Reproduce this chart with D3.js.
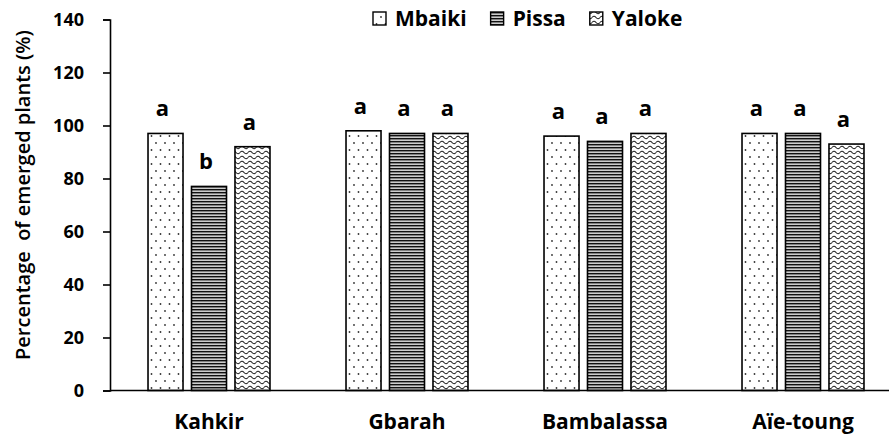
<!DOCTYPE html>
<html>
<head>
<meta charset="utf-8">
<script src="https://cdn.jsdelivr.net/npm/d3@7"></script>
<style>
body { margin: 0; background: #fff; }
text { font-family: "Open Sans", sans-serif; fill: #000; }
</style>
</head>
<body>
<div id="chart"></div>
<script>
// data
var sites = ["Kahkir", "Gbarah", "Bambalassa", "Aïe-toung"];
var series = ["Mbaiki", "Pissa", "Yaloke"];
var mbaiki = [97, 98, 96, 97];
var pissa = [77, 97, 94, 97];
var yaloke = [92, 97, 97, 93];
var letMbaiki = ["a", "a", "a", "a"];
var letPissa = ["b", "a", "a", "a"];
var letYaloke = ["a", "a", "a", "a"];
var yTicks = [0, 20, 40, 60, 80, 100, 120, 140];

function init(){

var w = 889;
var h = 434;

var svg = d3.select("#chart")
    .append("svg")
    .attr("width", w)
    .attr("height", h);

// patterns like the excel fills
var defs = svg.append("defs");

var pDots = defs.append("pattern")
    .attr("id", "pat-Mbaiki")
    .attr("patternUnits", "userSpaceOnUse")
    .attr("width", 18).attr("height", 14);
pDots.append("rect").attr("width", 18).attr("height", 14).attr("fill", "#fff");
pDots.append("circle").attr("cx", 3).attr("cy", 3).attr("r", 0.9).attr("fill", "#333");
pDots.append("circle").attr("cx", 12).attr("cy", 3).attr("r", 0.9).attr("fill", "#333");
pDots.append("circle").attr("cx", 7.5).attr("cy", 10).attr("r", 0.9).attr("fill", "#333");
pDots.append("circle").attr("cx", 16.5).attr("cy", 10).attr("r", 0.9).attr("fill", "#333");

var pLines = defs.append("pattern")
    .attr("id", "pat-Pissa")
    .attr("patternUnits", "userSpaceOnUse")
    .attr("width", 8).attr("height", 3);
pLines.append("rect").attr("width", 8).attr("height", 3).attr("fill", "#ccc");
pLines.append("rect").attr("y", 0).attr("width", 8).attr("height", 1.4).attr("fill", "#111");

var pWave = defs.append("pattern")
    .attr("id", "pat-Yaloke")
    .attr("patternUnits", "userSpaceOnUse")
    .attr("width", 8).attr("height", 5);
pWave.append("rect").attr("width", 8).attr("height", 5).attr("fill", "#fff");
pWave.append("path")
    .attr("d", "M0,2.5 Q2,0 4,2.5 T8,2.5")
    .attr("fill", "none")
    .attr("stroke", "#222")
    .attr("stroke-width", 1.1);

var x0 = d3.scaleBand()
    .domain(sites)
    .range([110, 902])
    .paddingInner(0.384)
    .paddingOuter(0.192);

var x1 = d3.scaleBand()
    .domain(series)
    .range([0, x0.bandwidth()])
    .paddingInner(0.195);

var y = d3.scaleLinear()
    .domain([0, 140])
    .range([390.5, 19.5]);

var rows = [];
sites.forEach(function(s, i){
    rows.push({site: s, ser: "Mbaiki", v: mbaiki[i], lab: letMbaiki[i]});
    rows.push({site: s, ser: "Pissa", v: pissa[i], lab: letPissa[i]});
    rows.push({site: s, ser: "Yaloke", v: yaloke[i], lab: letYaloke[i]});
});

// y axis
var yAxis = svg.append("g")
    .attr("transform", "translate(110,0)")
    .call(d3.axisLeft(y).tickValues(yTicks).tickSize(7).tickPadding(19));
yAxis.select(".domain").attr("stroke", "#000").attr("stroke-width", 1.6);
yAxis.selectAll(".tick line").attr("stroke", "#000").attr("stroke-width", 1.6);
yAxis.selectAll(".tick text")
    .style("font-family", "'Open Sans', sans-serif")
    .style("font-size", "18px")
    .style("font-weight", "bold")
    .attr("fill", "#000")
    .attr("dy", "0.35em");

// bars
svg.selectAll("rect.bar")
    .data(rows)
    .enter()
    .append("rect")
    .attr("class", "bar")
    .attr("x", function(d){ return x0(d.site) + x1(d.ser); })
    .attr("y", function(d){ return y(d.v); })
    .attr("width", x1.bandwidth())
    .attr("height", function(d){ return y(0) - y(d.v); })
    .attr("fill", function(d){ return "url(#pat-" + d.ser + ")"; })
    .attr("stroke", "#000")
    .attr("stroke-width", 1.6);

// significance letters
svg.selectAll("text.sig")
    .data(rows)
    .enter()
    .append("text")
    .attr("class", "sig")
    .text(function(d){ return d.lab; })
    .attr("x", function(d){ return x0(d.site) + x1(d.ser) + x1.bandwidth() / 2 - 3; })
    .attr("y", function(d){ return y(d.v) - 17; })
    .attr("text-anchor", "middle")
    .style("font-size", "22px")
    .style("font-weight", "bold");

// x axis line
svg.append("line")
    .attr("x1", 110).attr("x2", w)
    .attr("y1", y(0)).attr("y2", y(0))
    .attr("stroke", "#000")
    .attr("stroke-width", 1.6);

// category labels
svg.selectAll("text.cat")
    .data(sites)
    .enter()
    .append("text")
    .attr("class", "cat")
    .text(function(d){ return d; })
    .attr("x", function(d){ return x0(d) + x0.bandwidth() / 2; })
    .attr("y", 429)
    .attr("text-anchor", "middle")
    .style("font-size", "21px")
    .style("font-weight", "bold");

// y title
svg.append("text")
    .attr("transform", "translate(30,195) rotate(-90)")
    .attr("text-anchor", "middle")
    .style("font-size", "20px")
    .style("font-weight", "600")
    .style("white-space", "pre")
    .text("Percentage  of emerged plants (%)");

// legend
var lx = 373;
series.forEach(function(s){
    svg.append("rect")
        .attr("x", lx).attr("y", 12)
        .attr("width", 13).attr("height", 13)
        .attr("fill", "url(#pat-" + s + ")")
        .attr("stroke", "#000")
        .attr("stroke-width", 1.4);
    var t = svg.append("text")
        .attr("x", lx + 22)
        .attr("y", 25.5)
        .style("font-size", "21px")
        .style("font-weight", "bold")
        .text(s);
    lx = lx + 22 + t.node().getComputedTextLength() + 24;
});

}

window.onload = init;
</script>
</body>
</html>
